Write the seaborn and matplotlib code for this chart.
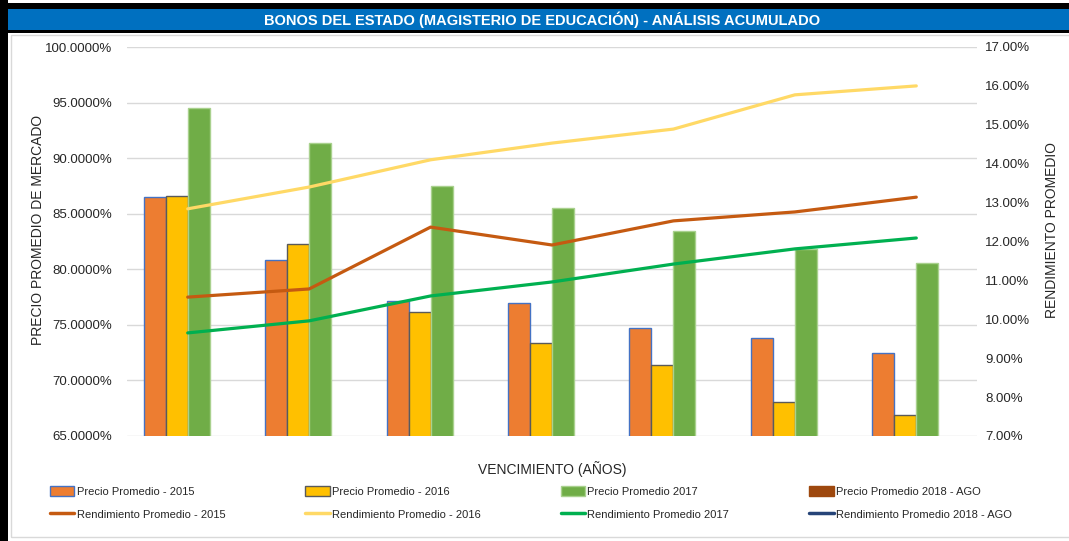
import pandas as pd
import matplotlib.pyplot as plt
import seaborn as sns
from matplotlib.patches import Rectangle, Patch
from matplotlib.lines import Line2D
from matplotlib.ticker import PercentFormatter, MultipleLocator

# vencimiento (años) - no tick labels shown in the chart
categories = ['1', '2', '3', '4', '5', '6', '7']

precio_2015 = [86.5, 80.8, 77.15, 77.0, 74.7, 73.8, 72.5]
precio_2016 = [86.6, 82.3, 76.2, 73.4, 71.4, 68.1, 66.9]
precio_2017 = [94.5, 91.4, 87.5, 85.5, 83.45, 81.8, 80.6]
precio_2018 = [None] * 7

rend_2015 = [10.57, 10.78, 12.37, 11.91, 12.53, 12.76, 13.14]
rend_2016 = [12.84, 13.4, 14.1, 14.53, 14.89, 15.77, 16.0]
rend_2017 = [9.65, 9.96, 10.6, 10.96, 11.42, 11.81, 12.09]
rend_2018 = [None] * 7

bar_names = ['Precio Promedio - 2015', 'Precio Promedio - 2016',
             'Precio Promedio 2017', 'Precio Promedio 2018 - AGO']
line_names = ['Rendimiento Promedio - 2015', 'Rendimiento Promedio - 2016',
              'Rendimiento Promedio 2017', 'Rendimiento Promedio 2018 - AGO']

bar_colors = ['#ED7D31', '#FFC000', '#70AD47', '#9E480E']
bar_edges = ['#4472C4', '#5A5A5A', '#A9D18E', '#9E480E']
line_colors = ['#C55A11', '#FFD966', '#00B050', '#264478']


def main():
    bars = pd.DataFrame({
        'cat': categories * 4,
        'serie': [n for n in bar_names for _ in categories],
        'precio': precio_2015 + precio_2016 + precio_2017 + precio_2018,
    })
    bars['precio'] = bars['precio'].astype(float)
    lines = pd.DataFrame({
        'cat': categories * 4,
        'serie': [n for n in line_names for _ in categories],
        'rend': rend_2015 + rend_2016 + rend_2017 + rend_2018,
    })
    lines['rend'] = lines['rend'].astype(float)
    lines = lines.dropna()

    sns.set_style('white')
    plt.rcParams['font.family'] = ['Liberation Sans', 'DejaVu Sans']

    W, H = 1069, 541
    fig = plt.figure(figsize=(W / 100, H / 100), dpi=100)

    # frame decoration (black border, blue title band, grey panel)
    def px_rect(x0, y0, x1, y1, **kw):
        fig.add_artist(Rectangle((x0 / W, 1 - y1 / H), (x1 - x0) / W,
                                 (y1 - y0) / H, transform=fig.transFigure, **kw))

    px_rect(0, 3, W, 33, facecolor='black', edgecolor='none')
    px_rect(0, 9, W, 30, facecolor='#0070C0', edgecolor='none')
    px_rect(0, 0, 8, H, facecolor='black', edgecolor='none')
    px_rect(11, 35, W + 5, 537, facecolor='none', edgecolor='#D9D9D9', lw=1)
    fig.text(542 / W, 1 - 19.5 / H,
             'BONOS DEL ESTADO (MAGISTERIO DE EDUCACIÓN) - ANÁLISIS ACUMULADO',
             color='white', fontweight='bold', fontsize=10.5,
             ha='center', va='center')

    ax = fig.add_axes([127 / W, 1 - 436 / H, 850 / W, 389 / H])
    sns.barplot(data=bars, x='cat', y='precio', hue='serie',
                hue_order=bar_names, order=categories,
                palette=dict(zip(bar_names, bar_colors)),
                width=0.725, errorbar=None, legend=False, ax=ax,
                saturation=1, linewidth=1)
    for cont, ec in zip(ax.containers, bar_edges):
        for p in cont:
            p.set_edgecolor(ec)

    ax.set_ylim(65, 100)
    ax.yaxis.set_major_locator(MultipleLocator(5))
    ax.yaxis.set_major_formatter(PercentFormatter(decimals=4))
    ax.grid(axis='y', color='#D9D9D9', lw=1)
    ax.set_axisbelow(True)
    for s in ax.spines.values():
        s.set_visible(False)
    ax.set_xticks(range(len(categories)))
    ax.set_xticklabels([''] * len(categories))
    ax.tick_params(length=0, labelsize=9.5, pad=11)
    ax.set_ylabel('PRECIO PROMEDIO DE MERCADO', fontsize=10)
    ax.yaxis.set_label_coords(-0.097, 0.53)
    ax.set_xlabel('VENCIMIENTO (AÑOS)', fontsize=10)
    ax.xaxis.set_label_coords(0.5, -0.065)

    ax2 = ax.twinx()
    sns.lineplot(data=lines, x='cat', y='rend', hue='serie',
                 hue_order=line_names,
                 palette=dict(zip(line_names, line_colors)),
                 lw=2.3, sort=False, legend=False, ax=ax2)
    ax2.set_xlim(-0.5, len(categories) - 0.5)
    ax2.set_ylim(7, 17)
    ax2.yaxis.set_major_locator(MultipleLocator(1))
    ax2.yaxis.set_major_formatter(PercentFormatter(decimals=2))
    for s in ax2.spines.values():
        s.set_visible(False)
    ax2.tick_params(length=0, labelsize=9.5, pad=6)
    ax2.set_xlabel('')
    ax2.set_ylabel('RENDIMIENTO PROMEDIO', fontsize=10)
    ax2.yaxis.set_label_coords(1.08, 0.53)
    ax2.set_xticklabels([''] * len(categories))

    # legend, filled column by column
    handles, labels = [], []
    for i in range(4):
        handles.append(Patch(facecolor=bar_colors[i], edgecolor=bar_edges[i]))
        labels.append(bar_names[i])
        handles.append(Line2D([], [], color=line_colors[i], lw=2.5))
        labels.append(line_names[i])
    fig.legend(handles, labels, ncol=4, loc='center left',
               bbox_to_anchor=(40 / W, 1 - 503 / H), frameon=False,
               fontsize=8, handlelength=2.2, handleheight=0.9,
               handletextpad=0.2, columnspacing=7.2, labelspacing=1.1)

    fig.savefig('out.png', dpi=100)


if __name__ == '__main__':
    main()
